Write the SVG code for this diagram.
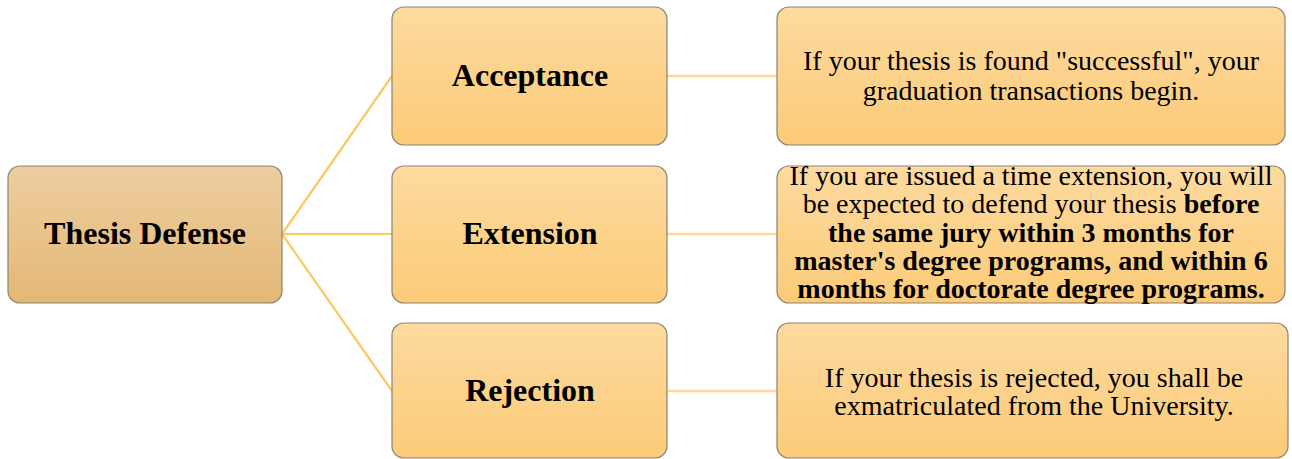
<svg xmlns="http://www.w3.org/2000/svg" width="1292" height="459" viewBox="0 0 1292 459">
<style>
.box{stroke:#8c8272;stroke-width:1.2}
.root{fill:url(#gRoot)}
.mid{fill:url(#gMid)}
.lbl{font-family:"Liberation Serif","Times New Roman",serif;font-weight:bold;font-size:32px;fill:#000;text-anchor:middle}
.txt{font-family:"Liberation Serif","Times New Roman",serif;font-size:28px;fill:#000;text-anchor:middle}
.b{font-weight:bold}
.c1{stroke:#FCC865;stroke-width:2.2;fill:none}
.c2{stroke:#FDD89C;stroke-width:2.5;fill:none}
</style>
<defs>
<linearGradient id="gRoot" x1="0" y1="0" x2="0" y2="1">
<stop offset="0" stop-color="#EDCD9F"/>
<stop offset="1" stop-color="#E3B876"/>
</linearGradient>
<linearGradient id="gMid" x1="0" y1="0" x2="0" y2="1">
<stop offset="0" stop-color="#FDDA9F"/>
<stop offset="1" stop-color="#FBCB78"/>
</linearGradient>
</defs>
<g id="connectors">
<line class="c1" x1="282" y1="234" x2="392" y2="76"/>
<line class="c1" x1="282" y1="234" x2="392" y2="234"/>
<line class="c1" x1="282" y1="234" x2="392" y2="391"/>
<line class="c2" x1="667" y1="76" x2="777" y2="76"/>
<line class="c2" x1="667" y1="234" x2="777" y2="234"/>
<line class="c2" x1="667" y1="391" x2="777" y2="391"/>
</g>
<g id="root">
<rect class="box root" x="8" y="166" width="274" height="137" rx="12"/>
<text class="lbl" x="145" y="244">Thesis Defense</text>
</g>
<g id="acceptance">
<rect class="box mid" x="392" y="7" width="275" height="138" rx="12"/>
<text class="lbl" x="530" y="86">Acceptance</text>
</g>
<g id="extension">
<rect class="box mid" x="392" y="166" width="275" height="137" rx="12"/>
<text class="lbl" x="530" y="244">Extension</text>
</g>
<g id="rejection">
<rect class="box mid" x="392" y="323" width="275" height="135" rx="12"/>
<text class="lbl" x="530" y="401">Rejection</text>
</g>
<g id="acceptance-detail">
<rect class="box mid" x="777" y="7" width="508" height="138" rx="12"/>
<text class="txt" x="1031" y="70">If your thesis is found "successful", your</text>
<text class="txt" x="1031" y="100">graduation transactions begin.</text>
</g>
<g id="extension-detail">
<rect class="box mid" x="777" y="166" width="508" height="137" rx="12"/>
<text class="txt" x="1031" y="185">If you are issued a time extension, you will</text>
<text class="txt" x="1031" y="213">be expected to defend your thesis <tspan class="b">before</tspan></text>
<text class="txt b" x="1031" y="242">the same jury within 3 months for</text>
<text class="txt b" x="1031" y="270">master's degree programs, and within 6</text>
<text class="txt b" x="1031" y="298">months for doctorate degree programs.</text>
</g>
<g id="rejection-detail">
<rect class="box mid" x="777" y="323" width="511" height="135" rx="12"/>
<text class="txt" x="1034" y="387">If your thesis is rejected, you shall be</text>
<text class="txt" x="1034" y="415">exmatriculated from the University.</text>
</g>
</svg>
